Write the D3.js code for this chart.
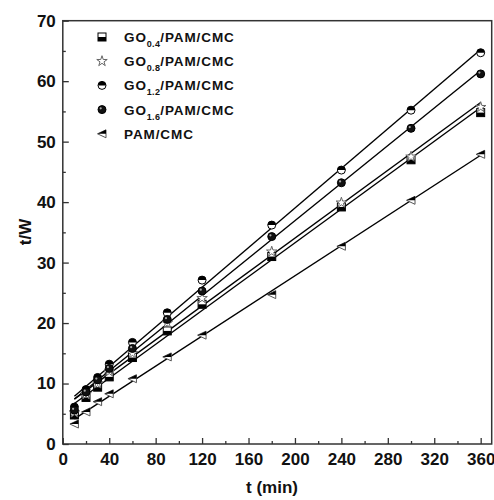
<!DOCTYPE html>
<html>
<head>
<meta charset="utf-8">
<script src="https://cdn.jsdelivr.net/npm/d3@7"></script>
<style>
body { margin: 0; background: #fff; }
text { font-family: "Liberation Sans", Arial, sans-serif; font-weight: bold; fill: #111; }
</style>
</head>
<body>
<div class="chart"></div>
<script>
var WIDTH = 494,
	HEIGHT = 500,
	LEFT = 62.8,
	RIGHT = 491.7,
	TOP = 20.7,
	BOTTOM = 444;

// time points (min)
var times = [10, 20, 30, 40, 60, 90, 120, 180, 240, 300, 360];

// t/W values
var go04 = [4.8, 7.7, 9.4, 11.1, 14.3, 18.7, 23.1, 31.0, 39.2, 47.0, 54.8];
var go08 = [5.2, 8.2, 10.0, 12.0, 15.0, 20.0, 24.1, 31.8, 39.9, 47.5, 55.7];
var go12 = [6.1, 9.0, 11.0, 13.2, 16.8, 21.7, 27.1, 36.2, 45.3, 55.2, 64.7];
var go16 = [5.6, 8.6, 10.6, 12.5, 15.8, 20.6, 25.3, 34.3, 43.2, 52.2, 61.2];
var pamcmc = [3.3, 5.3, 7.0, 8.3, 10.8, 14.4, 18.0, 24.7, 32.7, 40.3, 47.9];

var xTicks = [0, 40, 80, 120, 160, 200, 240, 280, 320, 360];
var yTicks = [0, 10, 20, 30, 40, 50, 60, 70];

var series = [
	{ name: "GO", sub: "0.4", rest: "/PAM/CMC", values: go04, marker: "square" },
	{ name: "GO", sub: "0.8", rest: "/PAM/CMC", values: go08, marker: "star" },
	{ name: "GO", sub: "1.2", rest: "/PAM/CMC", values: go12, marker: "halfcircle" },
	{ name: "GO", sub: "1.6", rest: "/PAM/CMC", values: go16, marker: "ball" },
	{ name: "PAM/CMC", sub: "", rest: "", values: pamcmc, marker: "triangle" }
];

var xScale = d3.scaleLinear().domain([0, 369.5]).range([LEFT, RIGHT]);
var yScale = d3.scaleLinear().domain([0, 70]).range([BOTTOM, TOP]);

var svg = d3.select(".chart").append("svg")
	.attr("width", WIDTH)
	.attr("height", HEIGHT);

// least squares fit of each series
var fit = function(xs, ys) {
	var n = xs.length, sx = d3.sum(xs), sy = d3.sum(ys);
	var sxy = d3.sum(xs, function(x, i) { return x * ys[i]; });
	var sxx = d3.sum(xs, function(x) { return x * x; });
	var b = (n * sxy - sx * sy) / (n * sxx - sx * sx);
	var a = (sy - b * sx) / n;
	return function(x) { return a + b * x; };
}

var drawMarker = function(g, type, cx, cy) {
	var s = 4;
	if (type == "square") {
		g.append("rect").attr("x", cx - s).attr("y", cy - s).attr("width", 2 * s).attr("height", 2 * s)
			.attr("fill", "#fff").attr("stroke", "#000").attr("stroke-width", 1);
		g.append("rect").attr("x", cx - s).attr("y", cy).attr("width", 2 * s).attr("height", s)
			.attr("fill", "#000");
	} else if (type == "star") {
		var sym = d3.symbol().type(d3.symbolStar).size(34);
		g.append("path").attr("d", sym()).attr("transform", "translate(" + cx + "," + cy + ")")
			.attr("fill", "#fff").attr("stroke", "#666").attr("stroke-width", 1);
	} else if (type == "halfcircle") {
		g.append("circle").attr("cx", cx).attr("cy", cy).attr("r", s)
			.attr("fill", "#fff").attr("stroke", "#000").attr("stroke-width", 1);
		var arc = d3.arc().innerRadius(0).outerRadius(s).startAngle(-Math.PI / 2).endAngle(Math.PI / 2);
		g.append("path").attr("d", arc()).attr("transform", "translate(" + cx + "," + cy + ")")
			.attr("fill", "#000");
	} else if (type == "ball") {
		g.append("circle").attr("cx", cx).attr("cy", cy).attr("r", s)
			.attr("fill", "#111").attr("stroke", "#000").attr("stroke-width", 1);
		g.append("circle").attr("cx", cx - 1.3).attr("cy", cy - 1.3).attr("r", 1.1)
			.attr("fill", "#aaa");
	} else if (type == "triangle") {
		var pts = [[cx - s - 0.5, cy], [cx + s, cy - s], [cx + s, cy + s]];
		g.append("path").attr("d", "M" + pts.join("L") + "Z")
			.attr("fill", "#fff").attr("stroke", "#555").attr("stroke-width", 1);
		g.append("path").attr("d", "M" + [[cx - s - 0.5, cy], [cx + s, cy - s], [cx + s, cy]].join("L") + "Z")
			.attr("fill", "#000");
	}
}

// fitted lines
var lineGen = d3.line()
	.x(function(d) { return xScale(d[0]); })
	.y(function(d) { return yScale(d[1]); });

series.forEach(function(s) {
	var f = fit(times, s.values);
	var x0 = d3.min(times), x1 = d3.max(times);
	svg.append("path")
		.attr("d", lineGen([[x0, f(x0)], [x1, f(x1)]]))
		.attr("fill", "none")
		.attr("stroke", "#000")
		.attr("stroke-width", 1.4);
});

// markers
series.forEach(function(s) {
	var g = svg.append("g");
	s.values.forEach(function(v, i) {
		drawMarker(g, s.marker, xScale(times[i]), yScale(v));
	});
});

// frame
svg.append("rect")
	.attr("x", LEFT).attr("y", TOP)
	.attr("width", RIGHT - LEFT).attr("height", BOTTOM - TOP)
	.attr("fill", "none").attr("stroke", "#333").attr("stroke-width", 1.5);

// axes
var xAxis = d3.axisBottom(xScale).tickValues(xTicks).tickSize(-6).tickPadding(9);
var xMinor = d3.axisBottom(xScale).tickValues(d3.range(20, 361, 40)).tickSize(-3).tickFormat("");
var yAxis = d3.axisLeft(yScale).tickValues(yTicks).tickSize(-6).tickPadding(7);
var yMinor = d3.axisLeft(yScale).tickValues(d3.range(5, 70, 10)).tickSize(-3).tickFormat("");

[[xAxis, "x"], [xMinor, "x"], [yAxis, "y"], [yMinor, "y"]].forEach(function(a) {
	var g = svg.append("g")
		.attr("transform", a[1] == "x" ? "translate(0," + BOTTOM + ")" : "translate(" + LEFT + ",0)")
		.call(a[0]);
	g.select(".domain").remove();
	g.selectAll("line").attr("stroke", "#333").attr("stroke-width", 1.3);
	g.selectAll("text").attr("font-size", 17).attr("font-family", null).attr("fill", "#111");
});

// axis titles
svg.append("text")
	.attr("transform", "translate(31,232) rotate(-90)")
	.attr("text-anchor", "middle")
	.attr("font-size", 17)
	.text("t/W");

svg.append("text")
	.attr("x", 272).attr("y", 493)
	.attr("text-anchor", "middle")
	.attr("font-size", 17)
	.text("t (min)");

// legend
var legend = svg.append("g");
series.forEach(function(s, i) {
	var y = 37 + i * 24.2;
	drawMarker(legend, s.marker, 102, y);
	var t = legend.append("text")
		.attr("x", 124).attr("y", y + 5)
		.attr("font-size", 13.5)
		.attr("letter-spacing", 0.9);
	t.append("tspan").text(s.name);
	if (s.sub) {
		t.append("tspan").attr("font-size", 9).attr("letter-spacing", 0.3).attr("dy", 5).text(s.sub);
		t.append("tspan").attr("dy", -5).text(s.rest);
	}
});
</script>
</body>
</html>
